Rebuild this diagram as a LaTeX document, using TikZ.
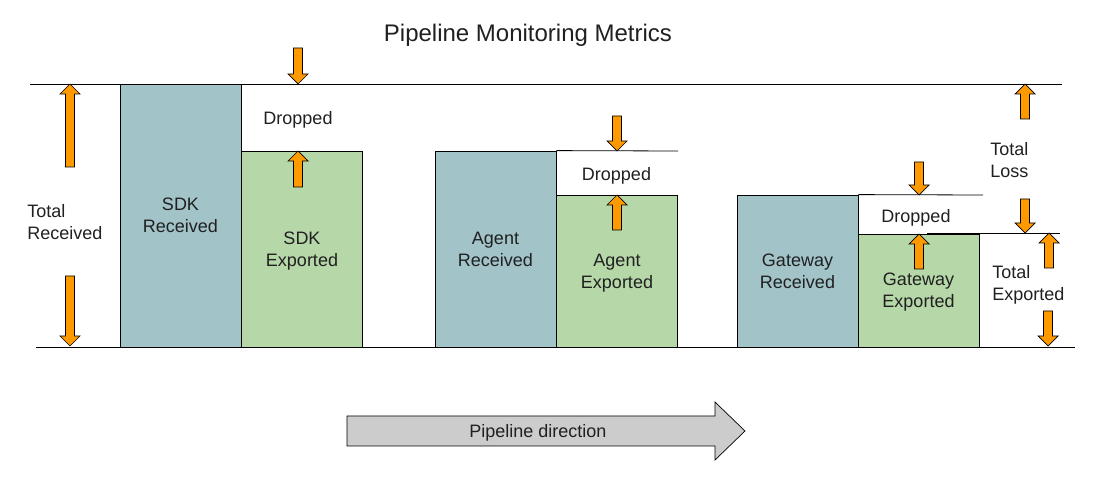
\documentclass[tikz,border=0pt]{standalone}
\usepackage{fontspec}
\setmainfont{Liberation Sans}
\usetikzlibrary{positioning}
\definecolor{recvblue}{HTML}{A2C4C9}
\definecolor{expgreen}{HTML}{B6D7A8}
\definecolor{droporange}{HTML}{FF9900}
\definecolor{pipegray}{HTML}{CCCCCC}
\definecolor{inktext}{HTML}{202020}

\begin{document}
\begin{tikzpicture}[x=1pt, y=-1pt, line width=0.8pt,
        font=\fontsize{18}{22}\selectfont, text=inktext,
        recvbox/.style={draw, fill=recvblue, inner sep=0, align=center, text depth=0pt, minimum width=121pt},
        expbox/.style={draw, fill=expgreen, inner sep=0, align=center, text depth=0pt, minimum width=121pt},
        label/.style={inner sep=0, align=left, anchor=west},
        flowarrow/.style={draw, fill=droporange, line width=0.7pt, line join=miter},
        pics/uparrow/.style={code={
            \draw[flowarrow] (0,0) -- (10,10) -- (4.5,10) -- (4.5,#1) -- (-4.5,#1) -- (-4.5,10) -- (-10,10) -- cycle;
        }}]
        \useasboundingbox (0,0) rectangle (1104,486);

        \node [font=\fontsize{24}{28}\selectfont] (title) at (528,35) {Pipeline Monitoring Metrics};

        % stages
        \node [recvbox, minimum height=263pt] (sdkrecv) at (180.5,215.5) {SDK\\Received};
        \node [expbox, minimum height=196pt] (sdkexp) at (302,249) {SDK\\Exported};
        \node [recvbox, minimum height=196pt] (agentrecv) at (495.5,249) {Agent\\Received};
        \node [expbox, minimum height=152pt] (agentexp) at (617,271) {Agent\\Exported};
        \node [recvbox, minimum height=152pt] (gwrecv) at (797.5,271) {Gateway\\Received};
        \node [expbox, minimum height=113pt] (gwexp) at (918.5,290.5) {Gateway\\Exported};

        % levels
        \coordinate (topL) at (30,84);
        \coordinate (topR) at (1062,84);
        \coordinate (botL) at (36,347);
        \coordinate (botR) at (1075,347);
        \draw (topL) -- (topR);
        \draw (botL) -- (botR);
        \draw (agentrecv.north east) -- (678,151);
        \draw (gwrecv.north east) -- (983,195);
        \draw (927,233) -- (1060,233);

        \node [inner sep=0] (sdkdrop) at (298,120) {Dropped};
        \node [inner sep=0] (agentdrop) at (616.5,176) {Dropped};
        \node [inner sep=0] (gwdrop) at (916,218) {Dropped};

        \node [label] (totalrecv) at (27,222) {Total\\Received};
        \node [label] (totalloss) at (990,160) {Total\\Loss};
        \node [label] (totalexp) at (992,285) {Total\\Exported};

        % arrows
        \pic at (70,84) {uparrow=83};
        \pic [rotate=180] at (70,346) {uparrow=70};
        \pic [rotate=180] at (298,84) {uparrow=36};
        \pic at (298,151) {uparrow=36};
        \pic [rotate=180] at (617,151) {uparrow=35};
        \pic at (617,195) {uparrow=35};
        \pic [rotate=180] at (919,195) {uparrow=33};
        \pic at (919,234) {uparrow=35};
        \pic at (1025,84) {uparrow=35};
        \pic [rotate=180] at (1025,233) {uparrow=34};
        \pic at (1049,233) {uparrow=35};
        \pic [rotate=180] at (1048,346) {uparrow=35};

        % direction
        \draw [fill=pipegray, line width=0.7pt] (347,416) -- (715,416) -- (715,402) -- (745,431)
            -- (715,460) -- (715,446) -- (347,446) -- cycle;
        \node [inner sep=0] (pipeline) at (538,433) {Pipeline direction};
\end{tikzpicture}
\end{document}
